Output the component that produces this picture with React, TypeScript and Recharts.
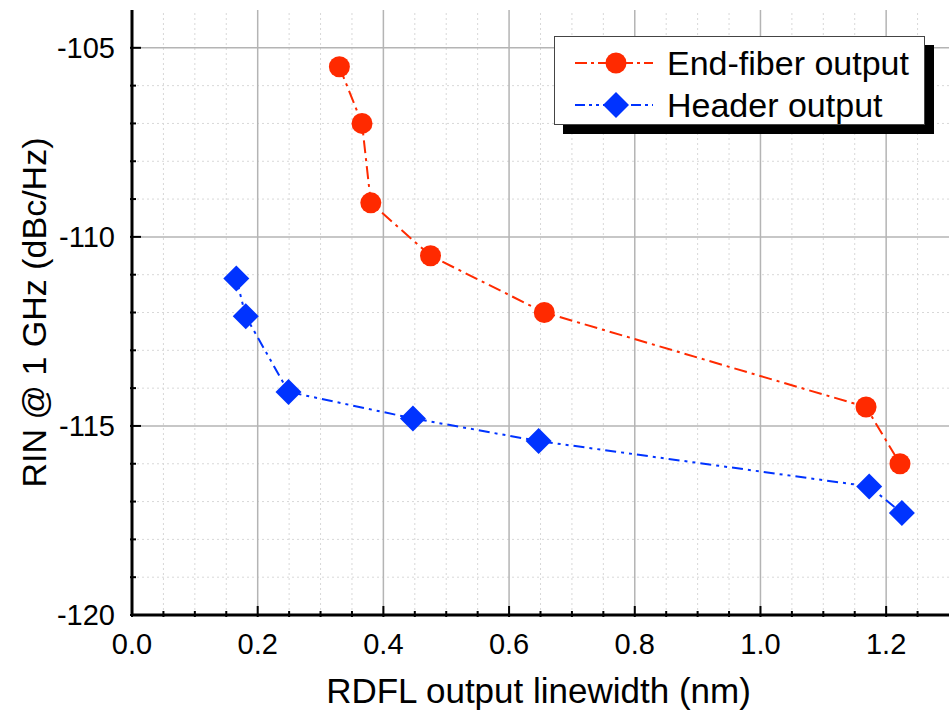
import React from 'react';
import {
    LineChart,
    Line,
    XAxis,
    YAxis,
    ReferenceLine,
    Legend
} from 'recharts';

// linewidth (nm) vs RIN @ 1 GHz (dBc/Hz)
const endFiberX = [0.33, 0.366, 0.38, 0.475, 0.656, 1.168, 1.222];
const endFiberY = [-105.5, -107.0, -109.1, -110.5, -112.0, -114.5, -116.0];
const headerX = [0.166, 0.181, 0.249, 0.447, 0.647, 1.173, 1.225];
const headerY = [-111.1, -112.1, -114.1, -114.8, -115.4, -116.6, -117.3];

const xTicks = [0, 0.05, 0.1, 0.15, 0.2, 0.25, 0.3, 0.35, 0.4, 0.45, 0.5, 0.55, 0.6, 0.65, 0.7, 0.75, 0.8, 0.85, 0.9, 0.95, 1.0, 1.05, 1.1, 1.15, 1.2, 1.25];
const xMajor = [0, 0.2, 0.4, 0.6, 0.8, 1.0, 1.2];
const yTicks = [-120, -119, -118, -117, -116, -115, -114, -113, -112, -111, -110, -109, -108, -107, -106, -105];
const yMajor = [-120, -115, -110, -105];

const RED = '#ff2a00';
const BLUE = '#0033ff';
const FONT = '"Liberation Sans", Arial, sans-serif';

const endFiber = endFiberX.map((x, i) => ({ x, y: endFiberY[i] }));
const header = headerX.map((x, i) => ({ x, y: headerY[i] }));

const isMajorX = (v: number) => xMajor.some((m) => Math.abs(m - v) < 1e-6);
const isMajorY = (v: number) => yMajor.some((m) => Math.abs(m - v) < 1e-6);

function Circle(props: any) {
    const { cx, cy } = props;
    if (cx == null || cy == null) return null;
    return <circle cx={cx} cy={cy} r={10.5} fill={RED} />;
}

function Diamond(props: any) {
    const { cx, cy } = props;
    if (cx == null || cy == null) return null;
    const s = 13;
    return <path d={`M${cx},${cy - s}L${cx + s},${cy}L${cx},${cy + s}L${cx - s},${cy}Z`} fill={BLUE} />;
}

// ticks point inward, majors longer
function BottomTick({ x, y, payload }: any) {
    const major = isMajorX(payload.value);
    return (
        <g>
            <line x1={x} y1={y} x2={x} y2={y - (major ? 11 : 6)} stroke="#000" strokeWidth={2} />
            {major && (
                <text x={x} y={y + 37} textAnchor="middle" fontSize={29} fontFamily={FONT} fill="#000">
                    {payload.value.toFixed(1)}
                </text>
            )}
        </g>
    );
}

function TopTick({ x, y, payload }: any) {
    const major = isMajorX(payload.value);
    return <line x1={x} y1={y} x2={x} y2={y + (major ? 11 : 6)} stroke="#000" strokeWidth={2} />;
}

function LeftTick({ x, y, payload }: any) {
    const major = isMajorY(payload.value);
    return (
        <g>
            <line x1={x} y1={y} x2={x + (major ? 11 : 6)} y2={y} stroke="#000" strokeWidth={2} />
            {major && (
                <text x={x - 15} y={y + 10} textAnchor="end" fontSize={29} fontFamily={FONT} fill="#000">
                    {payload.value}
                </text>
            )}
        </g>
    );
}

function RightTick({ x, y, payload }: any) {
    const major = isMajorY(payload.value);
    return <line x1={x} y1={y} x2={x - (major ? 11 : 6)} y2={y} stroke="#000" strokeWidth={2} />;
}

function LegendBox() {
    const rows = [
        { name: 'End-fiber output', color: RED, dash: '12 4 3 4', shape: 'circle' },
        { name: 'Header output', color: BLUE, dash: '10 4 3 4 3 4', shape: 'diamond' }
    ];
    return (
        <div
            style={{
                width: 371,
                height: 89,
                background: '#fff',
                border: '1px solid #444',
                boxShadow: '9px 9px 0 #000',
                fontFamily: FONT,
                paddingTop: 5,
                boxSizing: 'border-box'
            }}
        >
            {rows.map((r) => (
                <div key={r.name} style={{ display: 'flex', alignItems: 'center', height: 42 }}>
                    <svg width={100} height={36} style={{ marginLeft: 10 }}>
                        <line x1={10} y1={18} x2={88} y2={18} stroke={r.color} strokeWidth={2} strokeDasharray={r.dash} />
                        {r.shape === 'circle' ? (
                            <circle cx={51} cy={18} r={10.5} fill={r.color} />
                        ) : (
                            <path d="M51,5L64,18L51,31L38,18Z" fill={r.color} />
                        )}
                    </svg>
                    <span style={{ fontSize: 34, color: '#000', marginLeft: 2 }}>{r.name}</span>
                </div>
            ))}
        </div>
    );
}

export default function App() {
    return (
        <div style={{ position: 'absolute', left: 0, top: 0, width: 950, height: 715, background: '#fff' }}>
            <LineChart width={950} height={715} margin={{ top: 10, right: 1, bottom: 0, left: 0 }}>
                <XAxis
                    dataKey="x"
                    type="number"
                    domain={[0, 1.3]}
                    ticks={xTicks}
                    interval={0}
                    height={100}
                    tickSize={0}
                    tickLine={false}
                    tick={<BottomTick />}
                    axisLine={{ stroke: '#000', strokeWidth: 3 }}
                    allowDataOverflow
                    label={{
                        content: ({ viewBox }: any) => (
                            <text
                                x={viewBox.x + viewBox.width / 2 - 2}
                                y={viewBox.y + 88}
                                textAnchor="middle"
                                fontSize={35}
                                fontFamily={FONT}
                                fill="#000"
                            >
                                RDFL output linewidth (nm)
                            </text>
                        )
                    }}
                />
                <XAxis
                    xAxisId="top"
                    orientation="top"
                    dataKey="x"
                    type="number"
                    domain={[0, 1.3]}
                    ticks={xTicks}
                    interval={0}
                    height={0}
                    tickSize={0}
                    tickLine={false}
                    tick={<TopTick />}
                    axisLine={{ stroke: '#000', strokeWidth: 3 }}
                />
                <YAxis
                    type="number"
                    domain={[-120, -104]}
                    ticks={yTicks}
                    interval={0}
                    width={132}
                    tickSize={0}
                    tickLine={false}
                    tick={<LeftTick />}
                    axisLine={{ stroke: '#000', strokeWidth: 3 }}
                    allowDataOverflow
                    label={{
                        content: ({ viewBox }: any) => {
                            const cx = 34;
                            const cy = viewBox.y + viewBox.height / 2;
                            return (
                                <text
                                    x={cx}
                                    y={cy}
                                    transform={`rotate(-90 ${cx} ${cy})`}
                                    textAnchor="middle"
                                    dominantBaseline="central"
                                    fontSize={34}
                                    fontFamily={FONT}
                                    fill="#000"
                                >
                                    RIN @ 1 GHz (dBc/Hz)
                                </text>
                            );
                        }
                    }}
                />
                <YAxis
                    yAxisId="right"
                    orientation="right"
                    type="number"
                    domain={[-120, -104]}
                    ticks={yTicks}
                    interval={0}
                    width={0}
                    tickSize={0}
                    tickLine={false}
                    tick={<RightTick />}
                    axisLine={{ stroke: '#000', strokeWidth: 3 }}
                />

                {/* minor grid, dotted */}
                {xTicks.filter((v) => !isMajorX(v)).map((v) => (
                    <ReferenceLine key={`mx${v}`} x={v} stroke="#d8d8d8" strokeDasharray="2 3" strokeWidth={1} />
                ))}
                {yTicks.filter((v) => !isMajorY(v)).map((v) => (
                    <ReferenceLine key={`my${v}`} y={v} stroke="#d8d8d8" strokeDasharray="2 3" strokeWidth={1} />
                ))}
                {/* major grid */}
                {xMajor.filter((v) => v > 0).map((v) => (
                    <ReferenceLine key={`gx${v}`} x={v} stroke="#b4b4b4" strokeWidth={1.5} />
                ))}
                {yMajor.filter((v) => v > -120).map((v) => (
                    <ReferenceLine key={`gy${v}`} y={v} stroke="#b4b4b4" strokeWidth={1.5} />
                ))}

                <Legend
                    layout="vertical"
                    align="center"
                    verticalAlign="middle"
                    wrapperStyle={{ left: 554, top: 36, width: 371 }}
                    content={() => <LegendBox />}
                />

                <Line
                    data={endFiber}
                    dataKey="y"
                    name="End-fiber output"
                    stroke={RED}
                    strokeWidth={2}
                    strokeDasharray="13 5 3 5"
                    dot={<Circle />}
                    activeDot={false}
                    isAnimationActive={false}
                />
                <Line
                    data={header}
                    dataKey="y"
                    name="Header output"
                    stroke={BLUE}
                    strokeWidth={2}
                    strokeDasharray="11 5 3 5 3 5"
                    dot={<Diamond />}
                    activeDot={false}
                    isAnimationActive={false}
                />
            </LineChart>
        </div>
    );
}
